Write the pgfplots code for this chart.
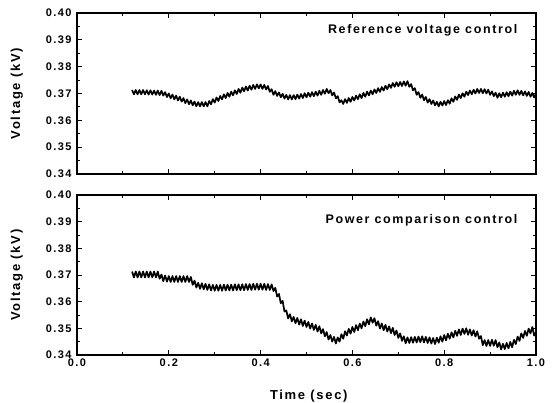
\documentclass[border=0pt]{standalone}
\usepackage{fontspec}
\setmainfont{Liberation Sans}[LetterSpace=13]
\usepackage{pgfplots}
\pgfplotsset{compat=1.18}

\pgfplotsset{
  panel/.style={
    width=459bp, scale only axis,
    xmin=0, xmax=1, ymin=0.34, ymax=0.40,
    xtick={0,0.2,0.4,0.6,0.8,1.0},
    ytick={0.34,0.35,0.36,0.37,0.38,0.39,0.40},
    minor x tick num=1, minor y tick num=1,
    tick align=inside,
    major tick length=5bp, minor tick length=3bp,
    axis line style={line width=1.2bp},
    every tick/.style={line width=1bp, black},
    /pgf/number format/assume math mode=true,
    tick label style={font=\fontsize{11bp}{13bp}\selectfont\bfseries},
    yticklabel style={xshift=-2bp, /pgf/number format/.cd, fixed, fixed zerofill, precision=2},
    xticklabel style={/pgf/number format/.cd, fixed, fixed zerofill, precision=1},
    clip=false,
  },
  sig/.style={black, line width=1.7bp, line join=round, mark=none},
}

\begin{document}
\begin{tikzpicture}
\path[use as bounding box] (-77bp,-48bp) rectangle (476bp,355bp);

% upper panel
\begin{axis}[panel, height=161bp, at={(0,181bp)}, xticklabels={}]
\addplot[sig] coordinates {
(0.120,0.3713)(0.124,0.3697)(0.128,0.3713)(0.132,0.3697)(0.136,0.3713)(0.140,0.3697)(0.144,0.3713)(0.148,0.3697)
(0.152,0.3712)(0.156,0.3696)(0.160,0.3712)(0.164,0.3696)(0.168,0.3711)(0.172,0.3695)(0.176,0.3711)(0.180,0.3694)
(0.184,0.3710)(0.188,0.3692)(0.192,0.3705)(0.196,0.3687)(0.200,0.3700)(0.204,0.3682)(0.208,0.3696)(0.212,0.3678)
(0.216,0.3692)(0.220,0.3674)(0.224,0.3688)(0.228,0.3670)(0.232,0.3683)(0.236,0.3664)(0.240,0.3678)(0.244,0.3660)
(0.248,0.3674)(0.252,0.3656)(0.256,0.3670)(0.260,0.3652)(0.264,0.3668)(0.268,0.3652)(0.272,0.3668)(0.276,0.3652)
(0.280,0.3668)(0.284,0.3652)(0.288,0.3672)(0.292,0.3660)(0.296,0.3679)(0.300,0.3666)(0.304,0.3685)(0.308,0.3672)
(0.312,0.3691)(0.316,0.3678)(0.320,0.3697)(0.324,0.3683)(0.328,0.3702)(0.332,0.3688)(0.336,0.3707)(0.340,0.3693)
(0.344,0.3712)(0.348,0.3698)(0.352,0.3717)(0.356,0.3703)(0.360,0.3722)(0.364,0.3708)(0.368,0.3726)(0.372,0.3711)
(0.376,0.3729)(0.380,0.3714)(0.384,0.3732)(0.388,0.3717)(0.392,0.3734)(0.396,0.3719)(0.400,0.3734)(0.404,0.3717)
(0.408,0.3732)(0.412,0.3715)(0.416,0.3728)(0.420,0.3706)(0.424,0.3716)(0.428,0.3695)(0.432,0.3709)(0.436,0.3691)
(0.440,0.3704)(0.444,0.3686)(0.448,0.3699)(0.452,0.3681)(0.456,0.3695)(0.460,0.3678)(0.464,0.3694)(0.468,0.3678)
(0.472,0.3694)(0.476,0.3679)(0.480,0.3696)(0.484,0.3681)(0.488,0.3698)(0.492,0.3683)(0.496,0.3701)(0.500,0.3686)
(0.504,0.3703)(0.508,0.3688)(0.512,0.3705)(0.516,0.3690)(0.520,0.3707)(0.524,0.3692)(0.528,0.3710)(0.532,0.3695)
(0.536,0.3713)(0.540,0.3699)(0.544,0.3717)(0.548,0.3701)(0.552,0.3713)(0.556,0.3693)(0.560,0.3704)(0.564,0.3682)
(0.568,0.3690)(0.572,0.3667)(0.576,0.3675)(0.580,0.3661)(0.584,0.3679)(0.588,0.3665)(0.592,0.3683)(0.596,0.3669)
(0.600,0.3687)(0.604,0.3674)(0.608,0.3692)(0.612,0.3679)(0.616,0.3697)(0.620,0.3683)(0.624,0.3702)(0.628,0.3688)
(0.632,0.3707)(0.636,0.3693)(0.640,0.3711)(0.644,0.3697)(0.648,0.3715)(0.652,0.3702)(0.656,0.3720)(0.660,0.3706)
(0.664,0.3724)(0.668,0.3711)(0.672,0.3729)(0.676,0.3716)(0.680,0.3734)(0.684,0.3721)(0.688,0.3739)(0.692,0.3725)
(0.696,0.3742)(0.700,0.3727)(0.704,0.3743)(0.708,0.3728)(0.712,0.3745)(0.716,0.3729)(0.720,0.3746)(0.724,0.3725)
(0.728,0.3735)(0.732,0.3712)(0.736,0.3720)(0.740,0.3695)(0.744,0.3705)(0.748,0.3684)(0.752,0.3696)(0.756,0.3675)
(0.760,0.3687)(0.764,0.3666)(0.768,0.3679)(0.772,0.3661)(0.776,0.3674)(0.780,0.3656)(0.784,0.3669)(0.788,0.3652)
(0.792,0.3669)(0.796,0.3655)(0.800,0.3672)(0.804,0.3657)(0.808,0.3675)(0.812,0.3662)(0.816,0.3682)(0.820,0.3669)
(0.824,0.3689)(0.828,0.3676)(0.832,0.3696)(0.836,0.3683)(0.840,0.3701)(0.844,0.3688)(0.848,0.3707)(0.852,0.3694)
(0.856,0.3711)(0.860,0.3697)(0.864,0.3714)(0.868,0.3700)(0.872,0.3717)(0.876,0.3702)(0.880,0.3717)(0.884,0.3701)
(0.888,0.3716)(0.892,0.3700)(0.896,0.3714)(0.900,0.3695)(0.904,0.3708)(0.908,0.3690)(0.912,0.3703)(0.916,0.3684)
(0.920,0.3701)(0.924,0.3686)(0.928,0.3703)(0.932,0.3688)(0.936,0.3705)(0.940,0.3690)(0.944,0.3707)(0.948,0.3692)
(0.952,0.3710)(0.956,0.3695)(0.960,0.3712)(0.964,0.3695)(0.968,0.3710)(0.972,0.3693)(0.976,0.3708)(0.980,0.3691)
(0.984,0.3706)(0.988,0.3688)(0.992,0.3702)(0.996,0.3685)(1.000,0.3700)
};
\node[anchor=base east, font=\fontsize{12.5bp}{14bp}\selectfont\bfseries] at (rel axis cs:0.967,0.87) {Reference voltage control};
\node[rotate=90, anchor=center, font=\fontsize{13bp}{15bp}\selectfont\bfseries] at (rel axis cs:-0.131,0.5) {Voltage (kV)};
\end{axis}

% lower panel
\begin{axis}[panel, height=160bp, at={(0,0)}]
\addplot[sig] coordinates {
(0.120,0.3713)(0.124,0.3691)(0.128,0.3713)(0.132,0.3691)(0.136,0.3713)(0.140,0.3691)(0.144,0.3713)(0.148,0.3691)
(0.152,0.3713)(0.156,0.3691)(0.160,0.3713)(0.164,0.3691)(0.168,0.3713)(0.172,0.3691)(0.176,0.3713)(0.180,0.3686)
(0.184,0.3702)(0.188,0.3677)(0.192,0.3698)(0.196,0.3675)(0.200,0.3696)(0.204,0.3674)(0.208,0.3696)(0.212,0.3674)
(0.216,0.3696)(0.220,0.3674)(0.224,0.3696)(0.228,0.3674)(0.232,0.3696)(0.236,0.3674)(0.240,0.3696)(0.244,0.3674)
(0.248,0.3693)(0.252,0.3663)(0.256,0.3679)(0.260,0.3653)(0.264,0.3671)(0.268,0.3648)(0.272,0.3669)(0.276,0.3646)
(0.280,0.3667)(0.284,0.3644)(0.288,0.3665)(0.292,0.3642)(0.296,0.3663)(0.300,0.3641)(0.304,0.3663)(0.308,0.3641)
(0.312,0.3663)(0.316,0.3641)(0.320,0.3664)(0.324,0.3642)(0.328,0.3664)(0.332,0.3642)(0.336,0.3664)(0.340,0.3642)
(0.344,0.3665)(0.348,0.3643)(0.352,0.3665)(0.356,0.3643)(0.360,0.3665)(0.364,0.3643)(0.368,0.3666)(0.372,0.3644)
(0.376,0.3666)(0.380,0.3644)(0.384,0.3667)(0.388,0.3645)(0.392,0.3667)(0.396,0.3645)(0.400,0.3667)(0.404,0.3645)
(0.408,0.3667)(0.412,0.3644)(0.416,0.3666)(0.420,0.3644)(0.424,0.3665)(0.428,0.3640)(0.432,0.3652)(0.436,0.3619)
(0.440,0.3629)(0.444,0.3594)(0.448,0.3603)(0.452,0.3563)(0.456,0.3567)(0.460,0.3537)(0.464,0.3553)(0.468,0.3526)
(0.472,0.3543)(0.476,0.3519)(0.480,0.3539)(0.484,0.3514)(0.488,0.3534)(0.492,0.3509)(0.496,0.3529)(0.500,0.3505)
(0.504,0.3524)(0.508,0.3499)(0.512,0.3518)(0.516,0.3494)(0.520,0.3513)(0.524,0.3488)(0.528,0.3508)(0.532,0.3481)
(0.536,0.3497)(0.540,0.3470)(0.544,0.3486)(0.548,0.3458)(0.552,0.3475)(0.556,0.3450)(0.560,0.3468)(0.564,0.3443)
(0.568,0.3466)(0.572,0.3450)(0.576,0.3478)(0.580,0.3461)(0.584,0.3489)(0.588,0.3473)(0.592,0.3498)(0.596,0.3480)
(0.600,0.3505)(0.604,0.3486)(0.608,0.3512)(0.612,0.3493)(0.616,0.3518)(0.620,0.3500)(0.624,0.3526)(0.628,0.3508)
(0.632,0.3534)(0.636,0.3515)(0.640,0.3541)(0.644,0.3521)(0.648,0.3538)(0.652,0.3510)(0.656,0.3527)(0.660,0.3499)
(0.664,0.3518)(0.668,0.3493)(0.672,0.3513)(0.676,0.3488)(0.680,0.3507)(0.684,0.3482)(0.688,0.3502)(0.692,0.3475)
(0.696,0.3492)(0.700,0.3464)(0.704,0.3481)(0.708,0.3453)(0.712,0.3470)(0.716,0.3444)(0.720,0.3466)(0.724,0.3445)
(0.728,0.3467)(0.732,0.3446)(0.736,0.3468)(0.740,0.3447)(0.744,0.3469)(0.748,0.3448)(0.752,0.3470)(0.756,0.3447)
(0.760,0.3468)(0.764,0.3445)(0.768,0.3466)(0.772,0.3443)(0.776,0.3464)(0.780,0.3441)(0.784,0.3465)(0.788,0.3446)
(0.792,0.3470)(0.796,0.3450)(0.800,0.3475)(0.804,0.3455)(0.808,0.3480)(0.812,0.3461)(0.816,0.3485)(0.820,0.3466)
(0.824,0.3491)(0.828,0.3472)(0.832,0.3496)(0.836,0.3475)(0.840,0.3499)(0.844,0.3479)(0.848,0.3500)(0.852,0.3476)
(0.856,0.3496)(0.860,0.3473)(0.864,0.3493)(0.868,0.3469)(0.872,0.3489)(0.876,0.3461)(0.880,0.3471)(0.884,0.3437)
(0.888,0.3456)(0.892,0.3434)(0.896,0.3456)(0.900,0.3434)(0.904,0.3457)(0.908,0.3435)(0.912,0.3456)(0.916,0.3429)
(0.920,0.3447)(0.924,0.3421)(0.928,0.3442)(0.932,0.3422)(0.936,0.3445)(0.940,0.3425)(0.944,0.3449)(0.948,0.3429)
(0.952,0.3457)(0.956,0.3441)(0.960,0.3469)(0.964,0.3453)(0.968,0.3481)(0.972,0.3464)(0.976,0.3490)(0.980,0.3472)
(0.984,0.3499)(0.988,0.3481)(0.992,0.3505)(0.996,0.3473)(1.000,0.3486)
};
\node[anchor=base east, font=\fontsize{12.5bp}{14bp}\selectfont\bfseries] at (rel axis cs:0.967,0.82) {Power comparison control};
\node[rotate=90, anchor=center, font=\fontsize{13bp}{15bp}\selectfont\bfseries] at (rel axis cs:-0.131,0.5) {Voltage (kV)};
\node[anchor=base, font=\fontsize{13bp}{15bp}\selectfont\bfseries] at (rel axis cs:0.505,-0.281) {Time (sec)};
\end{axis}
\end{tikzpicture}
\end{document}
